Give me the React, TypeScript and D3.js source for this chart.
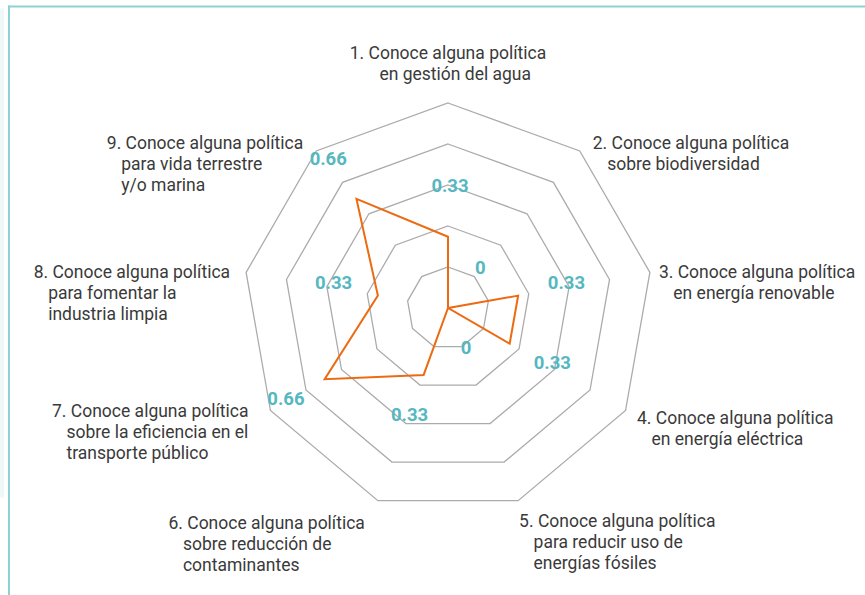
import React, { useEffect, useRef } from "react";
import * as d3 from "d3";

const categoryLines: string[][] = [
  ["1. Conoce alguna política", "en gestión del agua"],
  ["2. Conoce alguna política", "sobre biodiversidad"],
  ["3. Conoce alguna política", "en energía renovable"],
  ["4. Conoce alguna política", "en energía eléctrica"],
  ["5. Conoce alguna política", "para reducir uso de", "energías fósiles"],
  ["6. Conoce alguna política", "sobre reducción de", "contaminantes"],
  ["7. Conoce alguna política", "sobre la eficiencia en el", "transporte público"],
  ["8. Conoce alguna política", "para fomentar la", "industria limpia"],
  ["9. Conoce alguna política", "para vida terrestre", "y/o marina"],
];
const values: number[] = [0.33, 0, 0.33, 0.33, 0, 0.33, 0.66, 0.33, 0.66];
const valueLabels: string[] = ["0.33", "0", "0.33", "0.33", "0", "0.33", "0.66", "0.33", "0.66"];
const ringLevels: number[] = [1, 2, 3, 4, 5];

// layout (label offsets relative to outer vertex)
const labelLayout: { side: "center" | "left" | "right"; dx: number; dy: number }[] = [
  { side: "center", dx: 0, dy: -50 },
  { side: "right", dx: 13, dy: -8 },
  { side: "right", dx: 9, dy: 0 },
  { side: "right", dx: 11.5, dy: 7.5 },
  { side: "right", dx: 1, dy: 20 },
  { side: "left", dx: -13, dy: 22 },
  { side: "left", dx: -22, dy: 0 },
  { side: "left", dx: -16, dy: 0 },
  { side: "left", dx: -13, dy: -8 },
];

const W = 865, H = 595;
const CX = 448, CY = 308, R = 205;
const LINE_H = 21;
const VAL_PAD = 47;

export default function App() {
  const ref = useRef<SVGSVGElement | null>(null);

  useEffect(() => {
    const svg = d3.select(ref.current);
    svg.selectAll("*").remove();
    const n = categoryLines.length;
    const angle = d3.scaleLinear().domain([0, n]).range([0, 2 * Math.PI]);
    const rScale = d3.scaleLinear().domain([0, 0.95]).range([0, R]);
    const ringScale = d3.scaleLinear().domain([0, ringLevels.length]).range([0, R]);
    const pt = (i: number, r: number): [number, number] => [
      CX + r * Math.sin(angle(i)),
      CY - r * Math.cos(angle(i)),
    ];

    // frame
    svg.append("rect").attr("x", 0).attr("y", 8).attr("width", 4).attr("height", 490).attr("rx", 2).attr("fill", "#eef8f8");
    svg.append("line").attr("x1", 8).attr("x2", W).attr("y1", 6.5).attr("y2", 6.5).attr("stroke", "#8cd2d2").attr("stroke-width", 2);
    svg.append("line").attr("x1", 9).attr("x2", 9).attr("y1", 5.5).attr("y2", H).attr("stroke", "#8cd2d2").attr("stroke-width", 2);

    const line = d3.line<[number, number]>().curve(d3.curveLinearClosed);
    const idx = d3.range(n);

    // rings
    svg.append("g").selectAll("path").data(ringLevels).join("path")
      .attr("d", (k) => line(idx.map((i) => pt(i, ringScale(k)))) as string)
      .attr("fill", "none").attr("stroke", "#ababab").attr("stroke-width", 1.3);

    // data polygon
    svg.append("path")
      .attr("d", line(values.map((v, i) => pt(i, rScale(v)))) as string)
      .attr("fill", "none").attr("stroke", "#ec6a12").attr("stroke-width", 2).attr("stroke-linejoin", "miter");

    // value labels
    svg.append("g").selectAll("text").data(values).join("text")
      .attr("x", (v, i) => pt(i, rScale(v) + VAL_PAD)[0] + 2)
      .attr("y", (v, i) => pt(i, rScale(v) + VAL_PAD)[1] - 4)
      .attr("text-anchor", "middle").attr("dominant-baseline", "central")
      .attr("font-family", "Roboto, sans-serif").attr("font-weight", 700).attr("font-size", 18.5)
      .attr("fill", "#55b7c0")
      .text((v, i) => valueLabels[i]);

    // category labels
    const lg = svg.append("g").attr("font-family", "Roboto, sans-serif").attr("font-size", 17.5).attr("fill", "#3a3a3a");
    categoryLines.forEach((lines, i) => {
      const [vx, vy] = pt(i, R);
      const lay = labelLayout[i];
      const g = lg.append("g");
      const first = g.append("text").attr("dominant-baseline", "central").text(lines[0]);
      const w = (first.node() as SVGTextElement).getComputedTextLength();
      const prefix = lines[0].split(" ")[0] + " ";
      const probe = g.append("text").text(prefix).attr("opacity", 0);
      const pw = (probe.node() as SVGTextElement).getComputedTextLength();
      probe.remove();
      let left: number;
      if (lay.side === "right") left = vx + lay.dx;
      else if (lay.side === "left") left = vx + lay.dx - w;
      else left = vx + lay.dx - w / 2;
      const y0 = vy + lay.dy;
      first.attr("x", left).attr("y", y0);
      lines.slice(1).forEach((t, j) => {
        const tx = g.append("text").attr("dominant-baseline", "central").attr("y", y0 + (j + 1) * LINE_H).text(t);
        if (lay.side === "center") {
          tx.attr("text-anchor", "middle").attr("x", left + (pw + w) / 2);
        } else {
          tx.attr("x", left + pw);
        }
      });
    });
  }, []);

  return (
    <svg ref={ref} width={W} height={H} style={{ position: "absolute", left: 0, top: 0, background: "#fff" }} />
  );
}
